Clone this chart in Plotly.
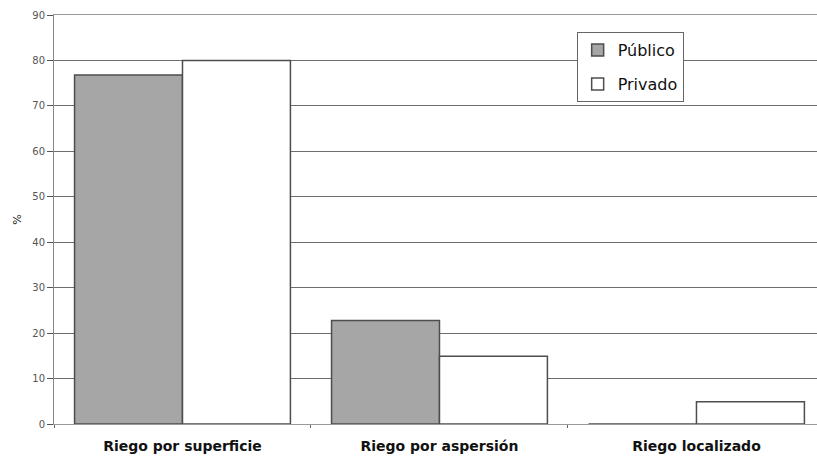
import plotly.graph_objects as go

categories = ["Riego por superficie", "Riego por aspersión", "Riego localizado"]
publico = [76.8, 22.8, 0]
privado = [80.0, 14.9, 4.9]
y_ticks = [0, 10, 20, 30, 40, 50, 60, 70, 80, 90]

FONT = "DejaVu Sans, Liberation Sans, Arial, sans-serif"

fig = go.Figure()
fig.add_trace(go.Bar(name="Público", x=categories, y=publico, legendgroup="a",
                     marker=dict(color="#a6a6a6", line=dict(color="#4d4d4d", width=1.5))))
fig.add_trace(go.Bar(name="Privado", x=categories, y=privado, legendgroup="b",
                     marker=dict(color="#ffffff", line=dict(color="#4d4d4d", width=1.5))))

fig.update_layout(
    width=817, height=460,
    margin=dict(l=54, r=0, t=15, b=36),
    paper_bgcolor="white", plot_bgcolor="white",
    barmode="group", bargap=0.16, bargroupgap=0,
    font=dict(family=FONT, color="#222"),
    legend=dict(x=0.685, y=0.958, xanchor="left", yanchor="top",
                bgcolor="white", bordercolor="#666", borderwidth=1,
                font=dict(size=16, color="#111", family=FONT), tracegroupgap=10,
                traceorder="grouped"),
    xaxis=dict(range=[-0.5, 2.469], showline=True, mirror=True, linecolor="#999", linewidth=1,
               ticks="outside", tickson="boundaries", ticklen=3, tickcolor="#666",
               tickfont=dict(size=14, color="#111", family="DejaVu Sans", weight="bold"),
               ticklabelstandoff=9, showgrid=False, automargin=False),
    yaxis=dict(range=[0, 90], tickvals=y_ticks, showline=True, linecolor="#888",
               linewidth=1, ticks="outside", ticklen=6, tickcolor="#555",
               tickfont=dict(size=10, color="#555", family=FONT), showgrid=True,
               gridcolor="#6e6e6e", gridwidth=1, zeroline=False, automargin=False,
               title=dict(text="%", font=dict(size=11, color="#222", family=FONT), standoff=8)),
)

fig.write_html("out.html", config={"displayModeBar": False},
               post_script="document.body.style.margin='0';document.body.style.overflow='hidden';")
